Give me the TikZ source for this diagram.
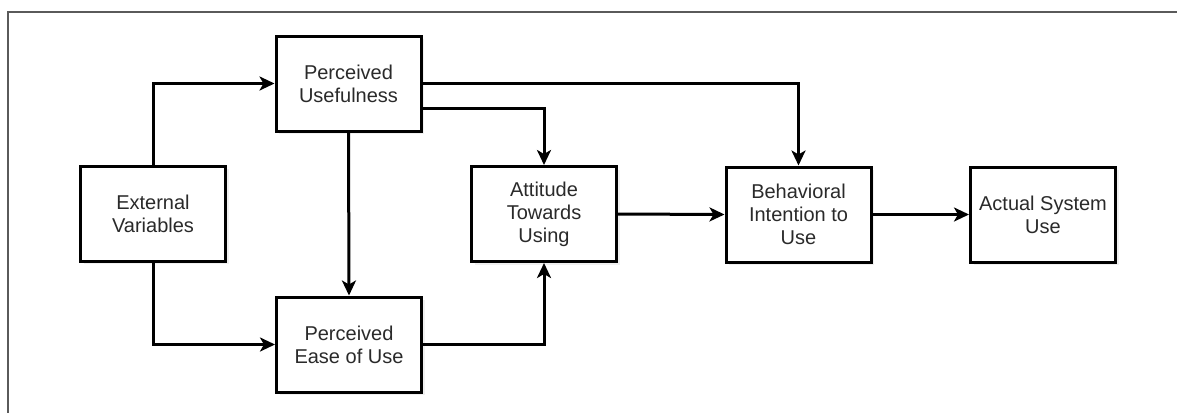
\documentclass[tikz,border=0pt]{standalone}
\usepackage{fontspec}
\setmainfont{Liberation Sans}
\usetikzlibrary{arrows.meta,shadows}
\definecolor{txt}{HTML}{2A2A2A}
\definecolor{framegray}{HTML}{5A5A5A}
\tikzset{
  box/.style={draw=black, line width=3pt, fill=white, rectangle,
    minimum width=145pt, minimum height=95pt, inner sep=2pt,
    align=center, text=txt, font=\fontsize{20}{23}\selectfont,
    drop shadow={shadow xshift=3pt, shadow yshift=-3pt, opacity=0.12, fill=gray}},
  link/.style={draw=black, line width=3pt,
    -{Stealth[length=15pt, width=14pt, inset=4pt]}},
}
\begin{document}
\begin{tikzpicture}[x=1pt, y=-1pt]
  \useasboundingbox (0,0) rectangle (1177,413);
  % outer frame (top and left edges)
  \draw[framegray, line width=2pt] (1177,12) -- (8,12) -- (8,413);

  % constructs
  \node[box] (ev)  at (153,213.5)   {External\\Variables};
  \node[box] (pu)  at (348.5,83.5)  {Perceived\\Usefulness};
  \node[box] (peu) at (349,344.5)   {Perceived\\Ease of Use};
  \node[box] (atu) at (544,214)     {Attitude\\Towards\\Using};
  \node[box] (bi)  at (798.5,214.5) {Behavioral\\Intention to\\Use};
  \node[box] (asu) at (1043,214.5)  {Actual System\\Use};

  % relations
  \draw[link] (ev.north) |- (pu.west);
  \draw[link] (ev.south) |- (peu.west);
  \draw[link] (pu.south) -- (peu.north);
  \draw[link] (pu.east) -| (bi.north);
  \coordinate (pulow) at ([yshift=-24.5pt]pu.east);
  \draw[link] (pulow) -| (atu.north);
  \draw[link] (peu.east) -| (atu.south);
  \draw[link] (atu.east) -- (bi.west);
  \draw[link] (bi.east) -- (asu.west);
\end{tikzpicture}
\end{document}
